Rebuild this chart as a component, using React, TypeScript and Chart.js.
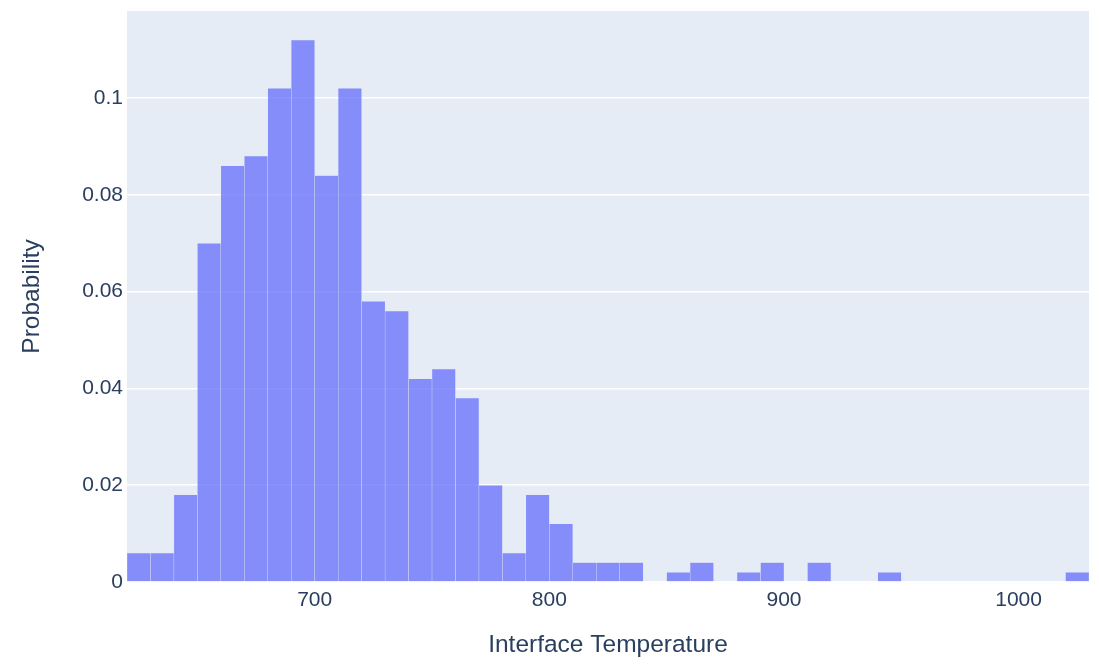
import { Chart, registerables, type Plugin } from "chart.js";
import { useEffect, useRef } from "react";

Chart.register(...registerables);

// histogram bins (centre of each 10-wide bin)
const binCenters = [
  625, 635, 645, 655, 665, 675, 685, 695, 705, 715, 725, 735, 745, 755, 765,
  775, 785, 795, 805, 815, 825, 835, 845, 855, 865, 875, 885, 895, 905, 915,
  925, 935, 945, 955, 965, 975, 985, 995, 1005, 1015, 1025,
];

const probability = [
  0.006, 0.006, 0.018, 0.07, 0.086, 0.088, 0.102, 0.112, 0.084, 0.102, 0.058,
  0.056, 0.042, 0.044, 0.038, 0.02, 0.006, 0.018, 0.012, 0.004, 0.004, 0.004,
  0, 0.002, 0.004, 0, 0.002, 0.004, 0, 0.004, 0, 0, 0.002, 0, 0, 0, 0, 0, 0,
  0, 0.002,
];

const xTicks = [700, 800, 900, 1000];
const yTicks = [0, 0.02, 0.04, 0.06, 0.08, 0.1];

const textColor = "#2a3f5f";
const fontFamily = '"Liberation Sans", Arial, sans-serif';

const plotBackground: Plugin<"bar"> = {
  id: "plotBackground",
  beforeDraw: (chart) => {
    const { ctx, chartArea } = chart;
    ctx.save();
    ctx.fillStyle = "#e5ecf6";
    ctx.fillRect(
      chartArea.left,
      chartArea.top,
      chartArea.right - chartArea.left,
      chartArea.bottom - chartArea.top
    );
    ctx.restore();
  },
};

const App = () => {
  const canvasRef = useRef<HTMLCanvasElement>(null);

  useEffect(() => {
    if (!canvasRef.current) return;
    const chart = new Chart(canvasRef.current, {
      type: "bar",
      data: {
        datasets: [
          {
            data: binCenters.map((x, i) => ({ x, y: probability[i] })),
            backgroundColor: "rgba(99, 110, 250, 0.75)",
            borderColor: "rgba(229, 236, 246, 0.5)",
            borderWidth: 0.5,
            barPercentage: 1,
            categoryPercentage: 1,
          },
        ],
      },
      options: {
        responsive: false,
        animation: false,
        devicePixelRatio: 1,
        layout: { padding: { top: 11, right: 10, left: 0, bottom: 0 } },
        plugins: {
          legend: { display: false },
          tooltip: { enabled: false },
        },
        scales: {
          x: {
            type: "linear",
            min: 620,
            max: 1030,
            offset: false,
            grid: { display: false, drawTicks: false, offset: false },
            border: { display: false },
            afterFit: (scale) => {
              scale.height = 86;
              scale.paddingLeft = 0;
              scale.paddingRight = 0;
            },
            afterBuildTicks: (scale) => {
              scale.ticks = xTicks.map((value) => ({ value }));
            },
            ticks: {
              color: textColor,
              font: { family: fontFamily, size: 21 },
              padding: 6,
              maxRotation: 0,
              callback: (v) => String(v),
            },
            title: {
              display: true,
              text: "Interface Temperature",
              color: textColor,
              font: { family: fontFamily, size: 24.5 },
              padding: { top: 0, bottom: 8 },
            },
          },
          y: {
            min: 0,
            max: 0.118,
            grid: {
              color: "#ffffff",
              lineWidth: 1.5,
              drawTicks: false,
            },
            border: { display: false },
            afterFit: (scale) => {
              scale.width = 127;
              scale.paddingTop = 0;
              scale.paddingBottom = 0;
            },
            afterBuildTicks: (scale) => {
              scale.ticks = yTicks.map((value) => ({ value }));
            },
            ticks: {
              color: textColor,
              font: { family: fontFamily, size: 21 },
              padding: 4,
              callback: (v) => String(Number(Number(v).toFixed(2))),
            },
            title: {
              display: true,
              text: "Probability",
              color: textColor,
              font: { family: fontFamily, size: 24.5 },
              padding: { top: 18, bottom: 0 },
            },
          },
        },
      },
      plugins: [plotBackground],
    });

    return () => {
      chart.destroy();
    };
  }, []);

  return (
    <div style={{ position: "fixed", top: 0, left: 0, background: "#fff" }}>
      <canvas ref={canvasRef} width={1099} height={668} />
    </div>
  );
};

export default App;
